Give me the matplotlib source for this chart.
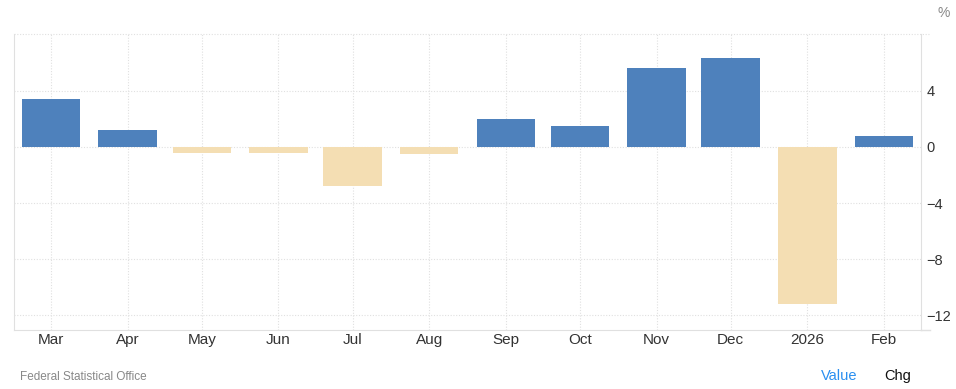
import matplotlib.pyplot as plt
import matplotlib.dates as mdates
import numpy as np
import pandas as pd

plt.rcParams['font.family'] = ['Liberation Sans', 'DejaVu Sans']

months = ["2025-03", "2025-04", "2025-05", "2025-06", "2025-07", "2025-08",
          "2025-09", "2025-10", "2025-11", "2025-12", "2026-01", "2026-02"]
tickLabels = ["Mar", "Apr", "May", "Jun", "Jul", "Aug",
              "Sep", "Oct", "Nov", "Dec", "2026", "Feb"]
changes = [3.4, 1.2, -0.4, -0.4, -2.75, -0.5, 2.0, 1.5, 5.65, 6.35, -11.2, 0.8]

dates = pd.to_datetime(months)
colors = ["#4e81bc" if v >= 0 else "#f4deb3" for v in changes]

fig = plt.figure(figsize=(9.56, 3.89), dpi=100)
ax = fig.add_axes([14 / 956, 59 / 389, 907 / 956, 296 / 389])

ax.bar(dates, changes, width=23.7, color=colors, zorder=2)

ax.set_xlim(pd.Timestamp("2025-02-14"), pd.Timestamp("2026-02-16"))
ax.set_ylim(-13.07, 8.07)
ax.set_xticks(dates)
ax.set_xticklabels(tickLabels)
ax.set_yticks([-12, -8, -4, 0, 4])

ax.yaxis.tick_right()
ax.grid(True, color="#e0e0e0", linestyle=(0, (1, 1.5)), linewidth=0.8, zorder=0)
# top border line, runs a little past the right spine like the bottom one
ax.plot([0, 1.01], [1, 1], transform=ax.transAxes, color="#e0e0e0",
        linestyle=(0, (1, 1.5)), linewidth=0.8, clip_on=False)
ax.plot([1, 1.01], [0, 0], transform=ax.transAxes, color="#e0e0e0",
        linewidth=1, clip_on=False)

ax.spines["top"].set_visible(False)
for side in ["left", "right", "bottom"]:
    ax.spines[side].set_color("#e0e0e0")

ax.tick_params(axis="x", length=0, pad=2, labelsize=11, labelcolor="#333333")
ax.tick_params(axis="y", length=0, pad=4, labelsize=10.5, labelcolor="#333333")

fig.text(937 / 956, 1 - 13 / 389, "%", fontsize=10, color="#888888", ha="left", va="center")
fig.text(20 / 956, 1 - 377 / 389, "Federal Statistical Office", fontsize=8.5, color="#888888",
         ha="left", va="center")
fig.text(821 / 956, 1 - 376 / 389, "Value", fontsize=10.5, color="#2a8ff0", ha="left", va="center")
fig.text(884 / 956, 1 - 376 / 389, "Chg", fontsize=10.5, color="#111111", ha="left", va="center")

fig.savefig("out.png", dpi=100)
